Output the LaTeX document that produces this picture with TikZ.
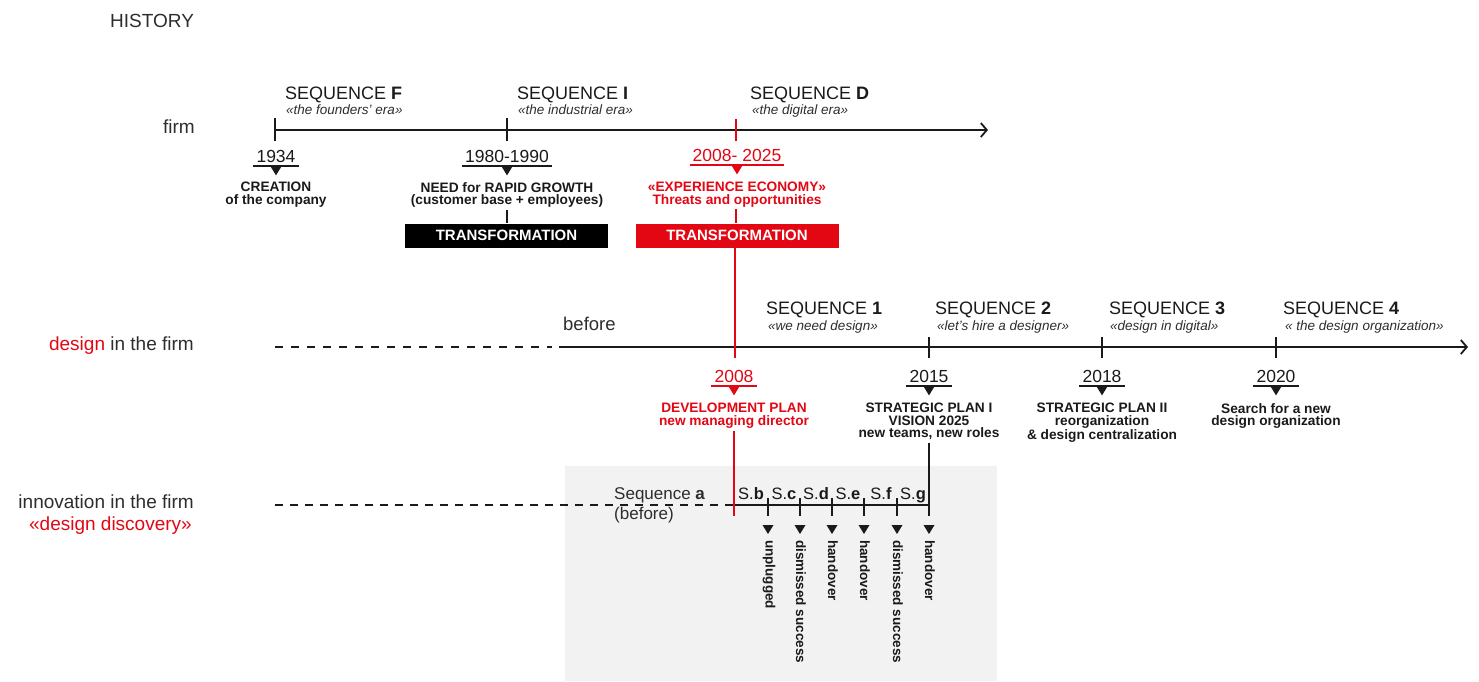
\documentclass[tikz,border=0pt]{standalone}
\usepackage{fontspec}
\setmainfont{Liberation Sans}
\usetikzlibrary{arrows.meta,calc}
\definecolor{myred}{RGB}{227,6,19}
\definecolor{ink}{RGB}{26,26,26}
\definecolor{soft}{RGB}{45,45,45}
\definecolor{graybg}{RGB}{242,242,242}
\newcommand{\downtri}[2]{\fill[#2] ($(#1.south)+(-5.5,0)$) -- ++(11,0) -- ++(-5.5,9) -- cycle;}
\begin{document}
\begin{tikzpicture}[x=1pt,y=-1pt,
  axis/.style={line width=1.9pt, draw=ink},
  arr/.style={axis, -{Straight Barb[length=6pt,width=14pt,line width=1.8pt]}},
  lbl/.style={font=\fontsize{19}{21}\selectfont, text=soft, inner sep=0pt, anchor=base east},
  seq/.style={font=\fontsize{18}{20}\selectfont, text=ink, inner sep=0pt, anchor=base west},
  subt/.style={font=\fontsize{13.5}{15}\selectfont\itshape, text=soft, inner sep=0pt, anchor=base west},
  year/.style={font=\fontsize{17.5}{20}\selectfont, text=ink, inner xsep=3pt, inner ysep=4pt, anchor=base},
  uline/.style={line width=1.8pt, draw=ink},
  blk/.style={font=\fontsize{13.7}{12.5}\selectfont\bfseries, text=ink, inner sep=0pt, anchor=north, align=center},
  tbox/.style={minimum width=203pt, minimum height=24pt, inner sep=0pt, text=white, font=\fontsize{15}{17}\selectfont\bfseries},
  slbl/.style={font=\fontsize{16.5}{18}\selectfont, text=ink, inner sep=0pt, anchor=base},
  rot/.style={rotate=-90, anchor=west, font=\fontsize{13.5}{15}\selectfont\bfseries, text=ink, inner sep=0pt},
  redl/.style={line width=1.8pt, draw=myred},
  tick/.style={line width=1.8pt, draw=ink}
]
\useasboundingbox (0,0) rectangle (1479,681);
\fill[graybg] (565,466) rectangle (997,681);

% ---------------- left labels
\node[font=\fontsize{19}{21}\selectfont, text=soft, inner sep=0pt, anchor=base west] (hist) at (110,27) {HISTORY};
\node[lbl] (lfirm) at (195,133) {firm};
\node[lbl] (ldesign) at (194,350) {\textcolor{myred}{design} in the firm};
\node[lbl] (linno) at (194,508) {innovation in the firm};
\node[lbl, text=myred] (ldisc) at (192,530) {«design discovery»};

% ---------------- firm axis
\coordinate (fa0) at (275,130);
\coordinate (fa1) at (988,130);
\draw[arr] (fa0) -- (fa1);
\coordinate (ft1a) at (275,118); \coordinate (ft1b) at (275,141);
\coordinate (ft2a) at (507,118); \coordinate (ft2b) at (507,141);
\coordinate (ft3a) at (736,119); \coordinate (ft3b) at (736,141);
\draw[tick] (ft1a) -- (ft1b);
\draw[tick] (ft2a) -- (ft2b);
\draw[redl] (ft3a) -- (ft3b);

\node[seq] (sF) at (285,99) {SEQUENCE \textbf{F}};
\node[subt] (sFs) at (286,114) {«the founders' era»};
\node[seq] (sI) at (517,99) {SEQUENCE \textbf{I}};
\node[subt] (sIs) at (518,114) {«the industrial era»};
\node[seq] (sD) at (750,99) {SEQUENCE \textbf{D}};
\node[subt] (sDs) at (752,114) {«the digital era»};

\node[year] (y1934) at (276,162) {1934};
\draw[uline] (y1934.south west) -- (y1934.south east);
\downtri{y1934}{ink}
\node[blk] (b1934) at (276,182) {CREATION\\of the company};

\node[year] (y1980) at (507,162) {1980-1990};
\draw[uline] (y1980.south west) -- (y1980.south east);
\downtri{y1980}{ink}
\node[blk] (b1980) at (507,182) {NEED for RAPID GROWTH\\(customer base + employees)};

\node[year, text=myred] (y2008a) at (737,161) {2008- 2025};
\draw[uline, draw=myred] (y2008a.south west) -- (y2008a.south east);
\downtri{y2008a}{myred}
\node[blk, text=myred] (b2008a) at (737,182) {«EXPERIENCE ECONOMY»\\Threats and opportunities};

\node[tbox, fill=black] (tr1) at (506.5,235.5) {TRANSFORMATION};
\node[tbox, fill=myred] (tr2) at (737,235.5) {TRANSFORMATION};
\draw[tick] ([yshift=-2pt]b1980.south) -- (b1980.south |- tr1.north);
\draw[redl] ([xshift=-1pt,yshift=-2pt]b2008a.south) -- ([xshift=-1pt]b2008a.south |- tr2.north);

% ---------------- design axis
\coordinate (da0) at (275,347);
\coordinate (da1) at (552,347);
\coordinate (da2) at (559,347);
\coordinate (da3) at (1468,347);
\draw[axis, dash pattern=on 8pt off 8pt] (da0) -- (da1);
\draw[arr] (da2) -- (da3);
\node[font=\fontsize{18.5}{20}\selectfont, text=soft, inner sep=0pt, anchor=base west] (before) at (563,330) {before};

\coordinate (r1) at (735,358);
\draw[redl] (tr2.south -| r1) -- (r1);

\coordinate (dt1a) at (929,337); \coordinate (dt1b) at (929,358);
\coordinate (dt2a) at (1102,337); \coordinate (dt2b) at (1102,358);
\coordinate (dt3a) at (1276,337); \coordinate (dt3b) at (1276,358);
\draw[tick] (dt1a) -- (dt1b);
\draw[tick] (dt2a) -- (dt2b);
\draw[tick] (dt3a) -- (dt3b);

\node[seq] (s1) at (766,314) {SEQUENCE \textbf{1}};
\node[subt] (s1s) at (768,330) {«we need design»};
\node[seq] (s2) at (935,314) {SEQUENCE \textbf{2}};
\node[subt] (s2s) at (937,330) {«let's hire a designer»};
\node[seq] (s3) at (1109,314) {SEQUENCE \textbf{3}};
\node[subt] (s3s) at (1110,330) {«design in digital»};
\node[seq] (s4) at (1283,314) {SEQUENCE \textbf{4}};
\node[subt] (s4s) at (1285,330) {« the design organization»};

\node[year, text=myred] (y2008) at (734,382) {2008};
\draw[uline, draw=myred] (y2008.south west) -- (y2008.south east);
\downtri{y2008}{myred}
\node[blk, text=myred] (b2008) at (734,403) {DEVELOPMENT PLAN\\new managing director};

\node[year] (y2015) at (929,382) {2015};
\draw[uline] (y2015.south west) -- (y2015.south east);
\downtri{y2015}{ink}
\node[blk] (b2015) at (929,403) {STRATEGIC PLAN I\\VISION 2025\\new teams, new roles};

\node[year] (y2018) at (1102,382) {2018};
\draw[uline] (y2018.south west) -- (y2018.south east);
\downtri{y2018}{ink}
\node[blk] (b2018) at (1102,403) {STRATEGIC PLAN II\\reorganization\\\& design centralization};

\node[year] (y2020) at (1276,382) {2020};
\draw[uline] (y2020.south west) -- (y2020.south east);
\downtri{y2020}{ink}
\node[blk] (b2020) at (1276,403) {Search for a new\\design organization};

% ---------------- innovation axis
\coordinate (ia0) at (275,505);
\coordinate (ia1) at (733,505);
\coordinate (ia2) at (929,505);
\draw[axis, dash pattern=on 8pt off 7pt] (ia0) -- (ia1);
\draw[axis] (ia1) -- (ia2);

\coordinate (r2) at (734,516);
\draw[redl] ([yshift=-3pt]b2008.south -| r2) -- (r2);
\coordinate (g7) at (929,516);
\draw[tick] ([yshift=-3pt]b2015.south -| g7) -- (g7);

\node[font=\fontsize{17}{19}\selectfont, text=soft, inner sep=0pt, anchor=base west] (seqa) at (614,499) {Sequence \textbf{a}};
\node[font=\fontsize{17}{19}\selectfont, text=soft, inner sep=0pt, anchor=base west] (seqab) at (614,519) {(before)};

\foreach \x/\n in {768/1,800/2,832/3,864/4,897/5} {
  \coordinate (it\n a) at (\x,498);
  \coordinate (it\n b) at (\x,516);
  \draw[line width=1.6pt, draw=ink] (it\n a) -- (it\n b);
}
\node[slbl] (Sb) at (751,499) {S.\textbf{b}};
\node[slbl] (Sc) at (784,499) {S.\textbf{c}};
\node[slbl] (Sd) at (816,499) {S.\textbf{d}};
\node[slbl] (Se) at (848,499) {S.\textbf{e}};
\node[slbl] (Sf) at (881,499) {S.\textbf{f}};
\node[slbl] (Sg) at (913,499) {S.\textbf{g}};

\foreach \x/\n/\t in {768/1/unplugged,800/2/dismissed success,832/3/handover,864/4/handover,897/5/dismissed success,929/6/handover} {
  \coordinate (tp\n) at (\x,525);
  \fill[ink] ($(tp\n)+(-5.5,0)$) -- ++(11,0) -- ++(-5.5,9) -- cycle;
  \node[rot] (rl\n) at (\x+1,540) {\t};
}
\end{tikzpicture}
\end{document}
